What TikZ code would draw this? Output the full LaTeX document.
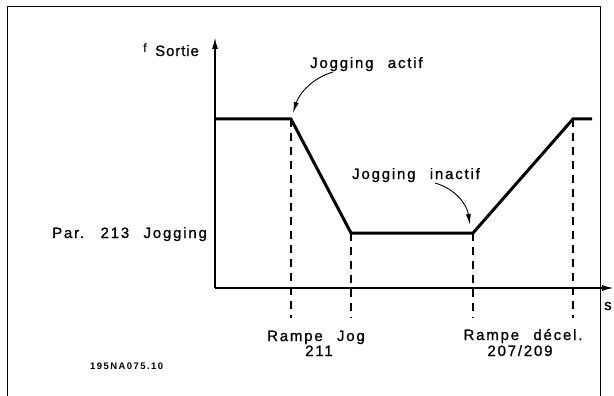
\documentclass[tikz,border=0pt]{standalone}
\usepackage{fontspec}
\setmainfont{Liberation Sans}
\newfontfamily\lblfont[LetterSpace=12,WordSpace=2.4,FakeBold=1]{Liberation Sans}
\newfontfamily\sortfont[LetterSpace=6,FakeBold=1]{Liberation Sans}
\newfontfamily\codefont[LetterSpace=15]{Liberation Sans}
\usetikzlibrary{arrows.meta}
\begin{document}
\begin{tikzpicture}[x=1pt,y=-1pt,
  lab/.style={inner sep=0pt,font=\lblfont\fontsize{15}{17}\selectfont},
  axis/.style={line width=1.6pt,-{Latex[length=12pt,width=6pt]}},
  curve/.style={line width=3pt,line join=miter},
  guide/.style={line width=1.2pt,dash pattern=on 8pt off 6pt},
  callout/.style={line width=0.9pt,-{Latex[length=11pt,width=5pt]}},
  frame/.style={line width=0.8pt}]
\useasboundingbox (0,0) rectangle (614,396);
% frame
\draw[frame] (7,396) -- (7,6) -- (600,6) -- (600,396);
% axes
\coordinate (O) at (215,288);
\coordinate (ytop) at (215,37);
\coordinate (xend) at (614,288);
\draw[axis] (O) -- (ytop);
\draw[axis] (O) -- (xend);
% curve points
\coordinate (p0) at (215,119);
\coordinate (p1) at (291,119);
\coordinate (p2) at (351,233);
\coordinate (p3) at (473,233);
\coordinate (p4) at (573,119);
\coordinate (p5) at (592,119);
\draw[curve] (p0) -- (p1) -- (p2) -- (p3) -- (p4) -- (p5);
% guides
\coordinate (d1) at (291,318);
\coordinate (d2) at (351,318);
\coordinate (d3) at (473,318);
\coordinate (d4) at (573,318);
\draw[guide] (p1) -- (d1);
\draw[guide] (p2) -- (d2);
\draw[guide] (p3) -- (d3);
\draw[guide] (p4) -- (d4);
% labels
\node[inner sep=0pt,anchor=base west,font=\sortfont\fontsize{12}{14}\selectfont] (f) at (143,52) {f};
\node[inner sep=0pt,anchor=base west,font=\sortfont\fontsize{15}{17}\selectfont] (sortie) at (155,56) {Sortie};
\node[lab,anchor=base west] (ja) at (310,68) {Jogging actif};
\node[lab,anchor=base west] (ji) at (352,179) {Jogging inactif};
\node[lab,anchor=base west] (par) at (52,238) {Par. 213 Jogging};
\node[lab,anchor=base] (rj1) at (316,341) {Rampe Jog};
\node[lab,anchor=base] (rj2) at (319,356) {211};
\node[lab,anchor=base] (rd1) at (523,340) {Rampe décel.};
\node[lab,anchor=base] (rd2) at (520,356) {207/209};
\node[lab,anchor=base west] (s) at (604,310) {s};
\node[inner sep=0pt,anchor=base west,font=\codefont\bfseries\fontsize{9.5}{11}\selectfont] (code) at (90,369) {195NA075.10};
% callouts
\coordinate (a1s) at (333,72);
\coordinate (a1e) at (293,113);
\coordinate (a2s) at (435,183);
\coordinate (a2e) at (470,225);
\draw[callout] (a1s) .. controls (312,78) and (299,94) .. (a1e);
\draw[callout] (a2s) .. controls (456,189) and (467,205) .. (a2e);
\end{tikzpicture}
\end{document}
